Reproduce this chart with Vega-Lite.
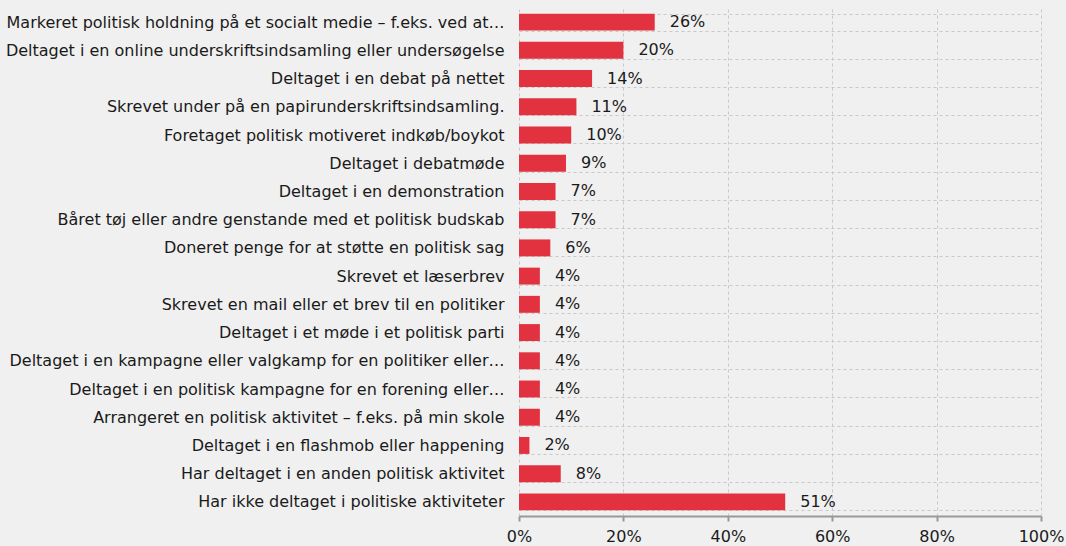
{
  "$schema": "https://vega.github.io/schema/vega-lite/v6.json",
  "autosize": {"type": "none"},
  "padding": {"left": 519, "top": 8, "right": 25, "bottom": 30},
  "width": 522,
  "height": 508,
  "background": "#f0f0f0",
  "config": {
    "view": {"stroke": null},
    "font": "DejaVu Sans"
  },
  "data": {
    "values": [
      {"activity": "Markeret politisk holdning på et socialt medie – f.eks. ved at…", "share": 0.26},
      {"activity": "Deltaget i en online underskriftsindsamling eller undersøgelse", "share": 0.20},
      {"activity": "Deltaget i en debat på nettet", "share": 0.14},
      {"activity": "Skrevet under på en papirunderskriftsindsamling.", "share": 0.11},
      {"activity": "Foretaget politisk motiveret indkøb/boykot", "share": 0.10},
      {"activity": "Deltaget i debatmøde", "share": 0.09},
      {"activity": "Deltaget i en demonstration", "share": 0.07},
      {"activity": "Båret tøj eller andre genstande med et politisk budskab", "share": 0.07},
      {"activity": "Doneret penge for at støtte en politisk sag", "share": 0.06},
      {"activity": "Skrevet et læserbrev", "share": 0.04},
      {"activity": "Skrevet en mail eller et brev til en politiker", "share": 0.04},
      {"activity": "Deltaget i et møde i et politisk parti", "share": 0.04},
      {"activity": "Deltaget i en kampagne eller valgkamp for en politiker eller…", "share": 0.04},
      {"activity": "Deltaget i en politisk kampagne for en forening eller…", "share": 0.04},
      {"activity": "Arrangeret en politisk aktivitet – f.eks. på min skole", "share": 0.04},
      {"activity": "Deltaget i en flashmob eller happening", "share": 0.02},
      {"activity": "Har deltaget i en anden politisk aktivitet", "share": 0.08},
      {"activity": "Har ikke deltaget i politiske aktiviteter", "share": 0.51}
    ]
  },
  "encoding": {
    "y": {
      "field": "activity",
      "type": "nominal",
      "sort": null,
      "scale": {"paddingInner": 0.4, "paddingOuter": 0.2},
      "axis": {
        "title": null,
        "grid": true,
        "tickBand": "extent",
        "gridDash": [3, 3],
        "gridColor": "#c8c8c8",
        "gridWidth": 1,
        "domain": false,
        "ticks": false,
        "labelPadding": 15,
        "labelFontSize": 16,
        "labelColor": "#1a1a1a",
        "labelLimit": 520
      }
    }
  },
  "layer": [
    {
      "mark": {"type": "bar", "color": "#e3323f"},
      "encoding": {
        "x": {
          "field": "share",
          "type": "quantitative",
          "scale": {"domain": [0, 1]},
          "axis": {
            "title": null,
            "values": [0, 0.2, 0.4, 0.6, 0.8, 1],
            "format": ".0%",
            "grid": true,
            "gridDash": [3, 3],
            "gridColor": "#c8c8c8",
            "gridWidth": 1,
            "domainColor": "#999999",
            "domainWidth": 2,
            "tickColor": "#999999",
            "tickWidth": 2,
            "tickSize": 5,
            "labelPadding": 7,
            "labelFontSize": 16,
            "labelColor": "#1a1a1a",
            "labelFlush": false
          }
        }
      }
    },
    {
      "mark": {"type": "text", "align": "left", "baseline": "middle", "dx": 15, "fontSize": 16, "color": "#1a1a1a"},
      "encoding": {
        "x": {"field": "share", "type": "quantitative"},
        "text": {"field": "share", "type": "quantitative", "format": ".0%"}
      }
    }
  ]
}
